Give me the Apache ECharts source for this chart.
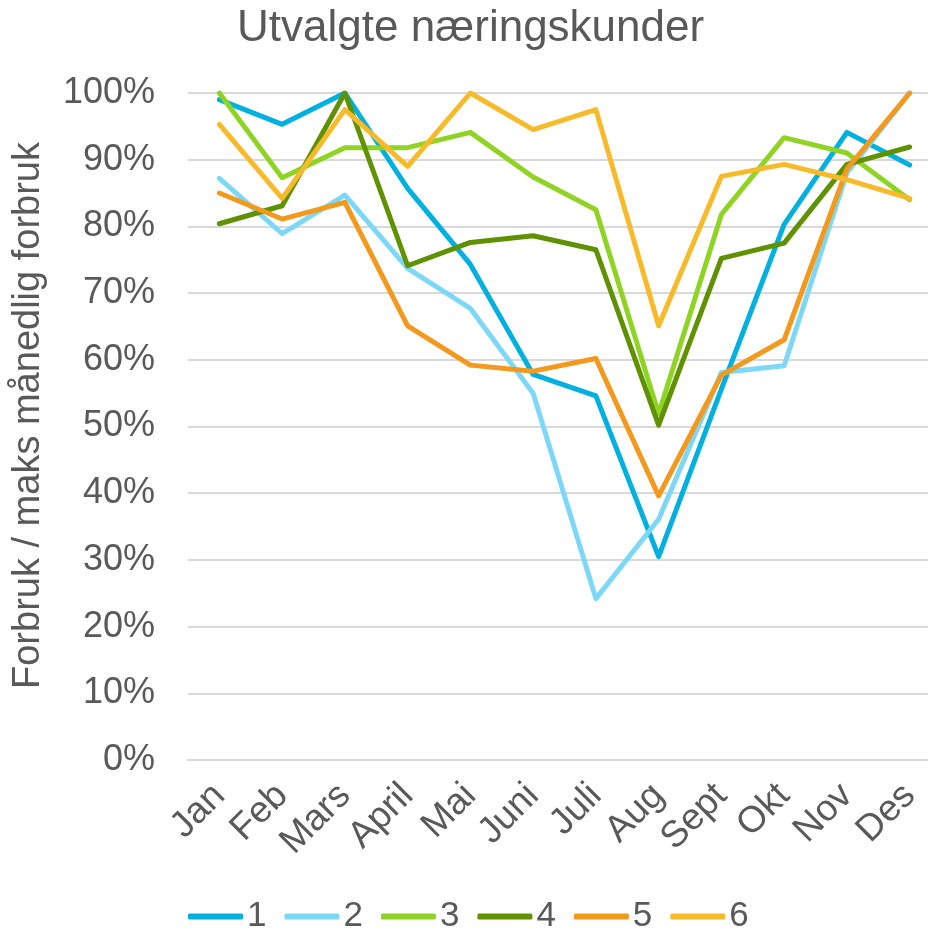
<!DOCTYPE html>
<html>
<head>
<meta charset="utf-8">
<script src="https://cdn.jsdelivr.net/npm/echarts@6/dist/echarts.min.js"></script>
<style>html,body{margin:0;padding:0;background:#fff;}#c{width:928px;height:930px;}</style>
</head>
<body>
<div id="c"></div>
<script>
const title = 'Utvalgte næringskunder';
const yAxisTitle = 'Forbruk / maks månedlig forbruk';
const months = ['Jan','Feb','Mars','April','Mai','Juni','Juli','Aug','Sept','Okt','Nov','Des'];
const seriesNames = ['1','2','3','4','5','6'];
const s1 = [99.0, 95.3, 100, 85.7, 74.3, 57.8, 54.6, 30.5, 55.6, 80.3, 94.1, 89.2];
const s2 = [87.2, 78.9, 84.7, 73.7, 67.7, 55.0, 24.2, 36.1, 58.1, 59.1, 88.0, 100];
const s3 = [100, 87.3, 91.8, 91.8, 94.1, 87.4, 82.5, 51.9, 81.8, 93.3, 91.0, 84.0];
const s4 = [80.4, 83.1, 100, 74.1, 77.6, 78.6, 76.5, 50.2, 75.2, 77.5, 89.3, 91.9];
const s5 = [85.0, 81.1, 83.6, 65.1, 59.2, 58.3, 60.2, 39.6, 57.7, 63.0, 88.6, 100];
const s6 = [95.3, 84.2, 97.5, 89.0, 100, 94.5, 97.5, 65.1, 87.5, 89.3, 87.0, 84.2];
const colors = ['#00B0DE','#7DD8F8','#8FD425','#5F9100','#F2991E','#F7BA2A'];
const allData = [s1, s2, s3, s4, s5, s6];

const chart = echarts.init(document.getElementById('c'));
const font = 'Liberation Sans, Arial, sans-serif';
chart.setOption({
  animation: false,
  color: colors,
  title: {
    text: title, left: 232, top: 2,
    textStyle: {fontFamily: font, fontSize: 44, fontWeight: 'normal', color: '#595959'}
  },
  legend: {
    data: seriesNames, left: 183, top: 894,
    icon: 'roundRect', itemWidth: 55, itemHeight: 6, itemGap: 18,
    textStyle: {fontFamily: font, fontSize: 35, color: '#595959', padding: [0,0,0,-1]}
  },
  grid: {left: 188, top: 93, width: 753, height: 667, containLabel: false, outerBoundsMode: 'none'},
  xAxis: {
    type: 'category', data: months, boundaryGap: true,
    axisLine: {show: true, lineStyle: {color: '#D9D9D9', width: 2}},
    axisTick: {show: false},
    axisLabel: {rotate: 45, margin: 30, interval: 0, fontFamily: font, fontSize: 37, color: '#595959'}
  },
  yAxis: {
    type: 'value', min: 0, max: 100, interval: 10,
    name: yAxisTitle, nameLocation: 'middle', nameGap: 140,
    nameTextStyle: {fontFamily: font, fontSize: 38, color: '#595959', padding: [0,0,0,22]},
    axisLine: {show: false}, axisTick: {show: false},
    axisLabel: {formatter: '{value}%', margin: 33, fontFamily: font, fontSize: 36, color: '#595959'},
    splitLine: {lineStyle: {color: '#D9D9D9', width: 2}}
  },
  series: seriesNames.map((n, i) => ({
    name: n, type: 'line', data: allData[i], symbol: 'none',
    lineStyle: {width: 5, color: colors[i], join: 'round', cap: 'round'},
    itemStyle: {color: colors[i]}
  }))
});
</script>
</body>
</html>
